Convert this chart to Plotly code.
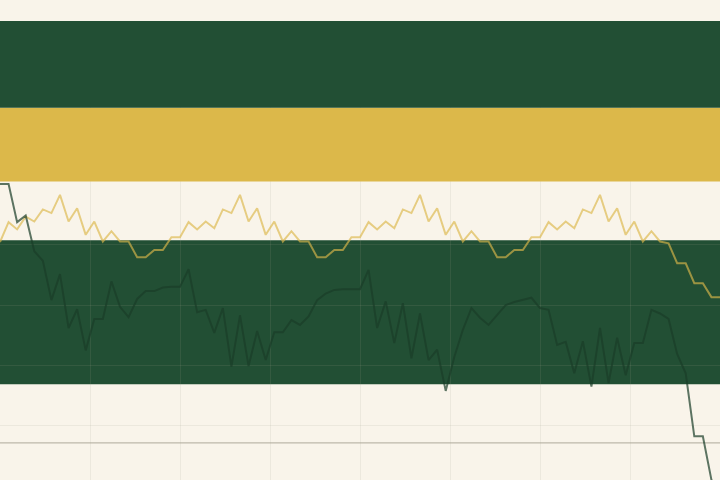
import plotly.graph_objects as go

# ---- data ----
steps = list(range(85))

gold_series = [
    30.4, 33.7, 32.5, 34.6, 33.8, 35.8, 35.2, 38.2, 33.8, 36.0, 31.6, 33.8, 30.5, 32.2, 30.5, 30.5, 27.9, 27.9, 29.1, 29.1, 31.2,
    31.2, 33.7, 32.5, 33.8, 32.7, 35.8, 35.2, 38.2, 33.8, 36.0, 31.6, 33.8, 30.5, 32.2, 30.5, 30.5, 27.9, 27.9, 29.1, 29.1, 31.2,
    31.2, 33.7, 32.5, 33.8, 32.7, 35.8, 35.2, 38.2, 33.8, 36.0, 31.6, 33.8, 30.5, 32.2, 30.5, 30.5, 27.9, 27.9, 29.1, 29.1, 31.2,
    31.2, 33.7, 32.5, 33.8, 32.7, 35.8, 35.2, 38.2, 33.8, 36.0, 31.6, 33.8, 30.5, 32.2, 30.5, 30.2, 26.9, 26.9, 23.6, 23.6, 21.3, 21.3,
]

green_series = [
    40.0, 40.0, 33.7, 34.8, 28.9, 27.3, 20.8, 25.1, 16.2, 19.3, 12.5, 17.7, 17.7, 23.9, 19.7, 18.0, 21.0, 22.3, 22.3, 22.9, 23.0,
    23.0, 25.9, 18.8, 19.2, 15.4, 19.5, 9.8, 18.3, 9.9, 15.7, 10.9, 15.5, 15.5, 17.5, 16.7, 18.1, 20.8, 21.9, 22.5, 22.6, 22.6,
    22.6, 25.8, 16.2, 20.6, 13.7, 20.3, 11.2, 18.6, 10.9, 12.6, 5.8, 11.4, 15.9, 19.5, 17.9, 16.7, 18.4, 20.0, 20.5, 20.8, 21.2,
    19.5, 19.2, 13.4, 13.9, 8.7, 14.0, 6.5, 16.2, 7.1, 14.6, 8.4, 13.7, 13.7, 19.2, 18.6, 17.7, 11.9, 8.7, -1.7, -1.7, -8.9, -14.7,
]

band_top_green = [52.6, 66.95]
band_gold = [40.4, 52.6]
band_low_green = [6.9, 30.7]
reference_level = -2.8
y_ticks = [0, 10, 20, 30]

# ---- styles ----
CREAM = "#f9f4ea"
GREEN = "#224f34"
GOLD = "#dcb84a"
DARK = "#1a3d28"

fig = go.Figure()

fig.add_trace(go.Scatter(
    x=steps, y=gold_series, mode="lines",
    line=dict(color=GOLD, width=2), opacity=0.65, showlegend=False, hoverinfo="skip",
))
fig.add_trace(go.Scatter(
    x=steps, y=green_series, mode="lines",
    line=dict(color=DARK, width=2), opacity=0.7, showlegend=False, hoverinfo="skip",
))

fig.add_hrect(y0=band_low_green[0], y1=band_low_green[1], fillcolor=GREEN, line_width=0,
              layer="below", opacity=1)
fig.add_hrect(y0=band_gold[0], y1=band_gold[1], fillcolor=GOLD, line_width=0,
              layer="above", opacity=1)
fig.add_hrect(y0=band_top_green[0], y1=band_top_green[1], fillcolor=GREEN, line_width=0,
              layer="above", opacity=1)
fig.add_hline(y=reference_level, line=dict(color="#bdb8aa", width=1.2), layer="below")

fig.update_layout(
    width=720, height=480,
    margin=dict(l=0, r=0, t=21, b=0),
    paper_bgcolor=CREAM, plot_bgcolor=CREAM,
    showlegend=False,
)
fig.update_xaxes(range=[0, 84], tick0=0, dtick=10.5, showticklabels=False,
                 showgrid=True, gridcolor="rgba(160,160,140,0.14)", gridwidth=1,
                 zeroline=False, showline=False, ticks="")
fig.update_yaxes(range=[-8.93, 66.95], tickvals=y_ticks, showticklabels=False,
                 showgrid=True, gridcolor="rgba(160,160,140,0.14)", gridwidth=1,
                 zeroline=False, showline=False, ticks="")

fig.write_html(
    "out.html",
    config={"displayModeBar": False},
    post_script="document.body.style.margin='0';document.body.style.overflow='hidden';"
                "document.body.style.background='" + CREAM + "';",
)
